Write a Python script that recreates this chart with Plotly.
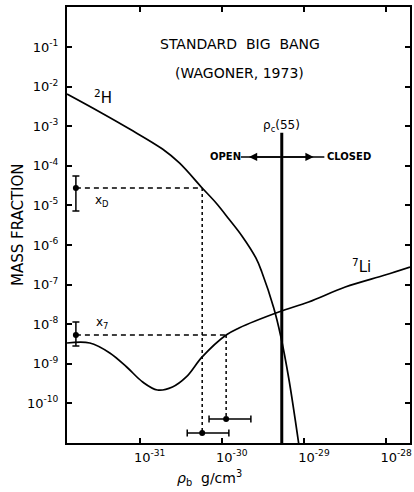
import numpy as np
import plotly.graph_objects as go

# ---- data (baryon density rho_b in g/cm^3, mass fractions) ----
h2_rho = [1.31e-32, 3.28e-32, 7.57e-32, 1.90e-31, 3.05e-31, 5.78e-31, 8.53e-31,
          1.22e-30, 1.76e-30, 2.60e-30, 3.07e-30, 4.29e-30, 5.21e-30, 6.52e-30, 8.61e-30]
h2_frac = [6.5e-3, 2.29e-3, 8.49e-4, 2.65e-4, 1.18e-4, 2.75e-5, 1.15e-5,
           4.54e-6, 1.69e-6, 4.70e-7, 2.08e-7, 2.56e-8, 5.04e-9, 4.38e-10, 1.0e-11]

li_rho = [1.31e-32, 2.48e-32, 4.34e-32, 6.97e-32, 1.09e-31, 1.65e-31, 2.51e-31,
          3.70e-31, 5.78e-31, 1.13e-30, 1.62e-30, 4.93e-30, 1.14e-29, 3.18e-29,
          9.7e-29, 1.95e-28]
li_frac = [3.35e-9, 3.35e-9, 1.88e-9, 8.3e-10, 3.47e-10, 2.18e-10, 2.59e-10,
           4.65e-10, 1.49e-9, 5.33e-9, 8.02e-9, 2.03e-8, 3.64e-8, 8.69e-8,
           1.75e-7, 2.78e-7]

# observed abundances (vertical error bars)
obs_rho = 1.68e-32
xd_val, xd_hi, xd_lo = 2.75e-5, 5.5e-5, 7.2e-6
x7_val, x7_hi, x7_lo = 5.33e-9, 1.14e-8, 2.81e-9

# inferred densities (horizontal error bars)
rho_d_val, rho_d_lo, rho_d_hi, rho_d_y = 5.78e-31, 3.8e-31, 1.22e-30, 1.79e-11
rho_7_val, rho_7_lo, rho_7_hi, rho_7_y = 1.13e-30, 7.0e-31, 2.26e-30, 4.04e-11

# critical density (H0 = 55)
rho_crit = 5.37e-30
crit_top, crit_bottom = 6.8e-4, 1.0e-11

# open/closed arrow
arrow_y = 1.67e-4
arrow_x0, arrow_x1 = 1.71e-30, 1.77e-29
arrow_tip_left, arrow_tip_right = 2.14e-30, 1.31e-29

x_tickvals = [1e-31, 1e-30, 1e-29, 1e-28]
x_ticktext = ["10<sup>-31</sup>", "10<sup>-30</sup>", "10<sup>-29</sup>", "10<sup>-28</sup>"]
y_exps = list(range(-1, -11, -1))
y_tickvals = [10.0 ** e for e in y_exps]
y_ticktext = [f"10<sup>{e}</sup>" for e in y_exps]

FONT = "DejaVu Sans"
BLACK = "black"

fig = go.Figure()

# curves
fig.add_trace(go.Scatter(x=h2_rho, y=h2_frac, mode="lines",
                         line=dict(color=BLACK, width=1.7, shape="spline", smoothing=1.0)))
fig.add_trace(go.Scatter(x=li_rho, y=li_frac, mode="lines",
                         line=dict(color=BLACK, width=1.7, shape="spline", smoothing=1.0)))

# dashed guide lines
fig.add_trace(go.Scatter(x=[obs_rho, rho_d_val], y=[xd_val, xd_val], mode="lines",
                         line=dict(color=BLACK, width=1.3, dash="5px,4px")))
fig.add_trace(go.Scatter(x=[rho_d_val, rho_d_val], y=[xd_val, rho_d_y], mode="lines",
                         line=dict(color=BLACK, width=1.5, dash="3px,3px")))
fig.add_trace(go.Scatter(x=[obs_rho, rho_7_val], y=[x7_val, x7_val], mode="lines",
                         line=dict(color=BLACK, width=1.3, dash="5px,4px")))
fig.add_trace(go.Scatter(x=[rho_7_val, rho_7_val], y=[x7_val, rho_7_y], mode="lines",
                         line=dict(color=BLACK, width=1.5, dash="3px,3px")))

# vertical error bars
fig.add_trace(go.Scatter(
    x=[obs_rho, obs_rho], y=[xd_val, x7_val], mode="markers",
    marker=dict(color=BLACK, size=6),
    error_y=dict(type="data", symmetric=False,
                 array=[xd_hi - xd_val, x7_hi - x7_val],
                 arrayminus=[xd_val - xd_lo, x7_val - x7_lo],
                 color=BLACK, thickness=1.5, width=3.5)))

# horizontal error bars
fig.add_trace(go.Scatter(
    x=[rho_d_val, rho_7_val], y=[rho_d_y, rho_7_y], mode="markers",
    marker=dict(color=BLACK, size=6),
    error_x=dict(type="data", symmetric=False,
                 array=[rho_d_hi - rho_d_val, rho_7_hi - rho_7_val],
                 arrayminus=[rho_d_val - rho_d_lo, rho_7_val - rho_7_lo],
                 color=BLACK, thickness=1.5, width=3.5)))

# critical density line
fig.add_trace(go.Scatter(x=[rho_crit, rho_crit], y=[crit_top, crit_bottom], mode="lines",
                         line=dict(color=BLACK, width=3)))

# open / closed arrow line
fig.add_trace(go.Scatter(x=[arrow_x0, arrow_x1], y=[arrow_y, arrow_y], mode="lines",
                         line=dict(color=BLACK, width=1.5)))

L = np.log10
ann = []
def txt(x, y, text, size=13, **kw):
    ann.append(dict(x=L(x), y=L(y), xref="x", yref="y", text=text, showarrow=False,
                    font=dict(family=FONT, size=size, color=BLACK), **kw))

txt(1.65e-30, 0.12, "STANDARD  BIG  BANG", size=14)
txt(1.65e-30, 2.2e-2, "(WAGONER, 1973)", size=14)
txt(3.6e-32, 5.5e-3, "<sup>2</sup>H", size=15)
txt(5.0e-29, 3.0e-7, "<sup>7</sup>Li", size=15)
txt(3.5e-32, 1.3e-5, "x<sub>D</sub>", size=12)
txt(3.5e-32, 1.1e-8, "x<sub>7</sub>", size=12)
txt(rho_crit, 1.0e-3, "ρ<sub>c</sub>(55)", size=12)
txt(1.1e-30, arrow_y, "<b>OPEN</b>", size=10)
txt(3.56e-29, arrow_y, "<b>CLOSED</b>", size=10)

for tip in (arrow_tip_left, arrow_tip_right):
    ann.append(dict(x=L(tip), y=L(arrow_y), xref="x", yref="y",
                    ax=L(rho_crit), ay=L(arrow_y), axref="x", ayref="y",
                    text="", showarrow=True, arrowhead=2, arrowsize=1.1,
                    arrowwidth=1.5, arrowcolor=BLACK))

# axis titles
ann.append(dict(x=0, y=0.5, xref="paper", yref="paper", xshift=-49,
                xanchor="center", yanchor="middle",
                text="MASS FRACTION", textangle=-90, showarrow=False,
                font=dict(family=FONT, size=15, color=BLACK)))
ann.append(dict(x=L(1.0e-30), y=0, xref="x", yref="paper", yshift=-35, xshift=-12,
                xanchor="center", yanchor="middle",
                text="<i>ρ</i><sub>b</sub>  g/cm<sup>3</sup>", showarrow=False,
                font=dict(family=FONT, size=14, color=BLACK)))

axis_common = dict(type="log", showgrid=False, zeroline=False, showline=True,
                   linecolor=BLACK, linewidth=2, mirror="ticks", ticks="inside",
                   ticklen=5, tickwidth=1.5, tickcolor=BLACK,
                   tickfont=dict(family=FONT, size=13, color=BLACK))

fig.update_layout(
    width=414, height=492,
    margin=dict(l=67, r=2, t=7, b=49),
    paper_bgcolor="white", plot_bgcolor="white",
    showlegend=False,
    annotations=ann,
    xaxis=dict(**axis_common, range=[-31.883, -27.71],
               tickvals=x_tickvals, ticktext=x_ticktext,
               ticklabelshift=10, ticklabelstandoff=1),
    yaxis=dict(**axis_common, range=[-11.0, 0.01],
               tickvals=y_tickvals, ticktext=y_ticktext,
               ticklabelstandoff=4),
)

fig.write_html("out.html")
